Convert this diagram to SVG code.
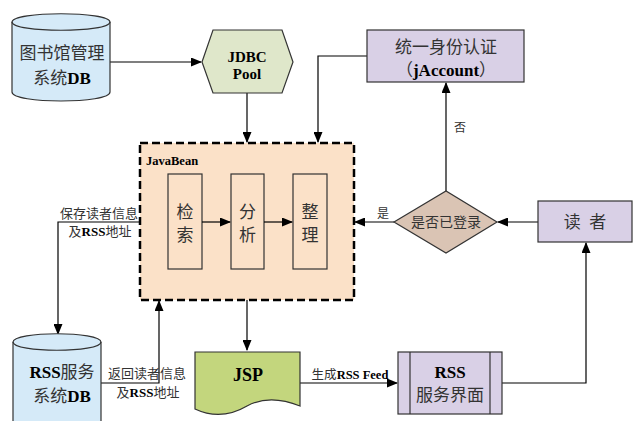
<svg xmlns="http://www.w3.org/2000/svg" width="634" height="421" viewBox="0 0 634 421">
<defs>
<marker id="ah" markerUnits="userSpaceOnUse" markerWidth="11" markerHeight="9" refX="10" refY="4.5" orient="auto">
<path d="M0,0 L11,4.5 L0,9 z" fill="#000"/>
</marker>
<style>
.cn{font-family:"Liberation Serif","Noto Sans CJK SC",serif;fill:#333;text-anchor:middle}
.b{font-weight:bold;fill:#000}
.shape{stroke:#333;stroke-width:1.2}
.conn{fill:none;stroke:#000;stroke-width:1.2}
</style>
</defs>
<rect width="634" height="421" fill="#fff"/>

<g id="conns" class="conn">
<path d="M110,62 H201" marker-end="url(#ah)"/>
<path d="M247,93 V142" marker-end="url(#ah)"/>
<path d="M367,56 H318 V142" marker-end="url(#ah)"/>
<path d="M446,191 V83" marker-end="url(#ah)"/>
<path d="M538,222 H498" marker-end="url(#ah)"/>
<path d="M394,222 H355" marker-end="url(#ah)"/>
<path d="M247,300 V350" marker-end="url(#ah)"/>
<path d="M300,383 H397" marker-end="url(#ah)"/>
<path d="M502,383 H586 V243" marker-end="url(#ah)"/>
<path d="M140,222 H58 V334" marker-end="url(#ah)"/>
<path d="M101,383 H159 V301" marker-end="url(#ah)"/>
</g>

<g id="db1">
<path class="shape" d="M12,22 C12,11 110,11 110,22 V92 C110,104 12,104 12,92 Z" fill="#d5eaf8"/>
<path class="shape" d="M12,22 C12,33 110,33 110,22" fill="none"/>
<text class="cn" x="62" y="59" font-size="17">图书馆管理</text>
<text class="cn" x="62" y="84" font-size="17">系统<tspan class="b">DB</tspan></text>
</g>

<g id="jdbc">
<polygon class="shape" points="202,62 213,30 282,30 293,62 282,93 213,93" fill="#dfe7ca"/>
<text class="cn b" x="247" y="62" font-size="15">JDBC</text>
<text class="cn b" x="247" y="79" font-size="15">Pool</text>
</g>

<g id="jaccount">
<rect class="shape" x="367" y="30" width="157" height="52" fill="#d9d0e6"/>
<text class="cn" x="446" y="53" font-size="17">统一身份认证</text>
<text class="cn" x="446" y="76" font-size="17">（<tspan class="b">jAccount</tspan>）</text>
</g>

<g id="javabean">
<rect x="140" y="143" width="214" height="157" fill="#fbe1c8" stroke="#000" stroke-width="2.5" stroke-dasharray="8,4"/>
<text x="146" y="165" font-family="Liberation Serif,serif" font-weight="bold" font-size="12.5" fill="#000">JavaBean</text>
</g>

<g id="jiansuo">
<rect class="shape" x="168" y="174" width="34" height="95" fill="#fbe1c8"/>
<text class="cn" x="185" y="218" font-size="17">检</text>
<text class="cn" x="185" y="241" font-size="17">索</text>
</g>
<g id="fenxi">
<rect class="shape" x="231" y="174" width="33" height="95" fill="#fbe1c8"/>
<text class="cn" x="247.5" y="218" font-size="17">分</text>
<text class="cn" x="247.5" y="241" font-size="17">析</text>
</g>
<g id="zhengli">
<rect class="shape" x="293" y="174" width="34" height="95" fill="#fbe1c8"/>
<text class="cn" x="310" y="218" font-size="17">整</text>
<text class="cn" x="310" y="241" font-size="17">理</text>
</g>
<g id="inner-conns" class="conn">
<path d="M202,222 H230" marker-end="url(#ah)"/>
<path d="M264,222 H292" marker-end="url(#ah)"/>
</g>

<g id="login">
<polygon class="shape" points="394,222 446,191 497,222 446,253" fill="#dac4b4"/>
<text class="cn" x="446" y="227" font-size="14">是否已登录</text>
</g>

<g id="reader">
<rect class="shape" x="538" y="201" width="94" height="41" fill="#d9d0e6"/>
<text class="cn" x="585" y="228" font-size="17" xml:space="preserve">读  者</text>
</g>

<g id="jsp">
<path class="shape" d="M195,352 H300 V406 C280,398 262,398 247,406 C230,416 212,417 195,409 Z" fill="#c3d67d"/>
<text class="cn b" x="248" y="381" font-size="18">JSP</text>
</g>

<g id="rssui">
<rect class="shape" x="398" y="352" width="104" height="62" fill="#d9d0e6"/>
<line class="shape" x1="410" y1="352" x2="410" y2="414"/>
<line class="shape" x1="490" y1="352" x2="490" y2="414"/>
<text class="cn b" x="450" y="378" font-size="17">RSS</text>
<text class="cn" x="450" y="401" font-size="17">服务界面</text>
</g>

<g id="db2">
<path class="shape" d="M13,342 C13,331 101,331 101,342 V430 H13 Z" fill="#d5eaf8"/>
<path class="shape" d="M13,342 C13,353 101,353 101,342" fill="none"/>
<text class="cn" x="62" y="378" font-size="17"><tspan class="b">RSS</tspan>服务</text>
<text class="cn" x="62" y="402" font-size="17">系统<tspan class="b">DB</tspan></text>
</g>

<g id="labels">
<text class="cn" x="460" y="132" font-size="12">否</text>
<text class="cn" x="383" y="218" font-size="12">是</text>
<text class="cn" x="99" y="218" font-size="13">保存读者信息</text>
<text class="cn" x="100" y="236" font-size="13">及<tspan class="b">RSS</tspan>地址</text>
<text class="cn" x="147" y="378" font-size="13">返回读者信息</text>
<text class="cn" x="148" y="397" font-size="13">及<tspan class="b">RSS</tspan>地址</text>
<text class="cn" x="350" y="379" font-size="12.5">生成<tspan class="b">RSS Feed</tspan></text>
</g>
</svg>
